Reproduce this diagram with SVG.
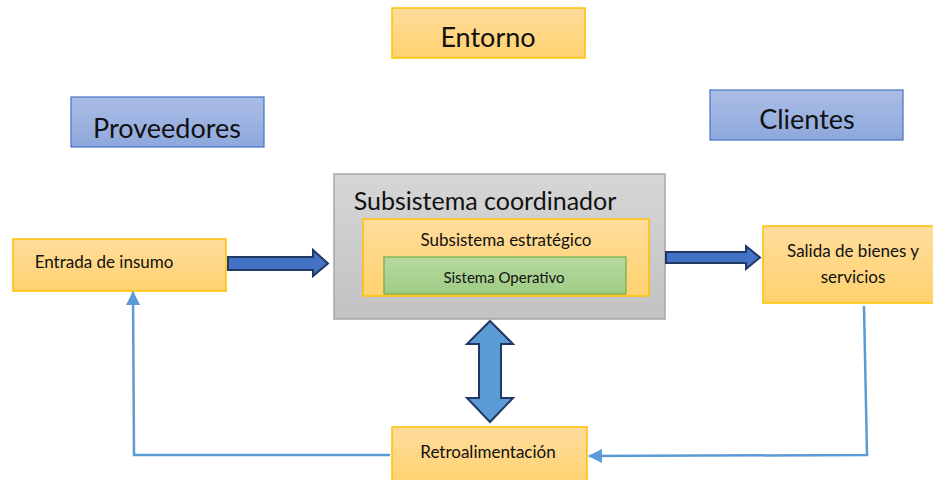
<svg xmlns="http://www.w3.org/2000/svg" width="933" height="480" viewBox="0 0 933 480">
<defs>
<linearGradient id="gOr" x1="0" y1="0" x2="0" y2="1"><stop offset="0" stop-color="#ffdc9c"/><stop offset="1" stop-color="#ffd26e"/></linearGradient>
<linearGradient id="gBl" x1="0" y1="0" x2="0" y2="1"><stop offset="0" stop-color="#aabde6"/><stop offset="1" stop-color="#8ea8dc"/></linearGradient>
<linearGradient id="gGr" x1="0" y1="0" x2="0" y2="1"><stop offset="0" stop-color="#d6d6d6"/><stop offset="1" stop-color="#c2c2c2"/></linearGradient>
<linearGradient id="gGn" x1="0" y1="0" x2="0" y2="1"><stop offset="0" stop-color="#b6d9a0"/><stop offset="1" stop-color="#9fcc84"/></linearGradient>
<marker id="ah" markerWidth="14" markerHeight="14" refX="13" refY="7" orient="auto" markerUnits="userSpaceOnUse" viewBox="0 0 14 14"><path d="M0,0 L14,7 L0,14 z" fill="#5b9bd5"/></marker>
</defs>
<style>
.or{fill:url(#gOr);stroke:#ffc000;stroke-width:1.5}
.bl{fill:url(#gBl);stroke:#4472c4;stroke-width:1.2}
.gr{fill:url(#gGr);stroke:#a6a6a6;stroke-width:1.5}
.gn{fill:url(#gGn);stroke:#70ad47;stroke-width:1.2}
text{font-family:Lato,"Open Sans","Liberation Sans",sans-serif;fill:#111;text-anchor:middle}
.big{font-size:27px}
.co{font-size:25px}
.mid{font-size:17px}
.sm{font-size:15px}
.fat{fill:#4472c4;stroke:#1f3864;stroke-width:2}
.dbl{fill:#5b9bd5;stroke:#203864;stroke-width:2}
.ln{fill:none;stroke:#5b9bd5;stroke-width:2.5}
</style>
<g id="entorno"><rect class="or" x="392" y="8" width="193" height="50"/><text class="big" x="488" y="47">Entorno</text></g>
<g id="proveedores"><rect class="bl" x="71" y="97" width="193" height="50"/><text class="big" x="167" y="138">Proveedores</text></g>
<g id="clientes"><rect class="bl" x="710" y="90" width="193" height="50"/><text class="big" x="807" y="129">Clientes</text></g>
<g id="coordinador"><rect class="gr" x="334" y="174" width="331" height="145"/><text class="co" x="485" y="210">Subsistema coordinador</text></g>
<g id="estrategico"><rect class="or" x="363" y="219" width="286" height="77"/><text class="mid" x="506" y="246">Subsistema estratégico</text></g>
<g id="operativo"><rect class="gn" x="384" y="257" width="242" height="37"/><text class="sm" x="504" y="283">Sistema Operativo</text></g>
<g id="entrada"><rect class="or" x="13" y="239" width="213" height="52"/><text class="mid" x="104" y="268">Entrada de insumo</text></g>
<g id="salida"><rect class="or" x="763" y="226" width="180" height="77"/><text class="mid" x="853" y="257">Salida de bienes y</text><text class="mid" x="853" y="283">servicios</text></g>
<g id="retro"><rect class="or" x="392" y="427" width="195" height="60"/><text class="mid" x="488" y="458">Retroalimentación</text></g>
<g id="connectors">
<path class="fat" d="M228,257 L313,257 L313,250 L328,263.5 L313,276 L313,270 L228,270 z"/>
<path class="fat" d="M666,252 L746,252 L746,246 L760,257.5 L746,269 L746,263 L666,263 z"/>
<path class="dbl" d="M490,321 L513,344 L501,344 L501,398 L513,398 L490,422 L467,398 L479,398 L479,344 L467,344 z"/>
<polyline class="ln" points="864,306 867,455 589,456" marker-end="url(#ah)"/>
<polyline class="ln" points="390,455 134,455 133,292" marker-end="url(#ah)"/>
</g>
</svg>
